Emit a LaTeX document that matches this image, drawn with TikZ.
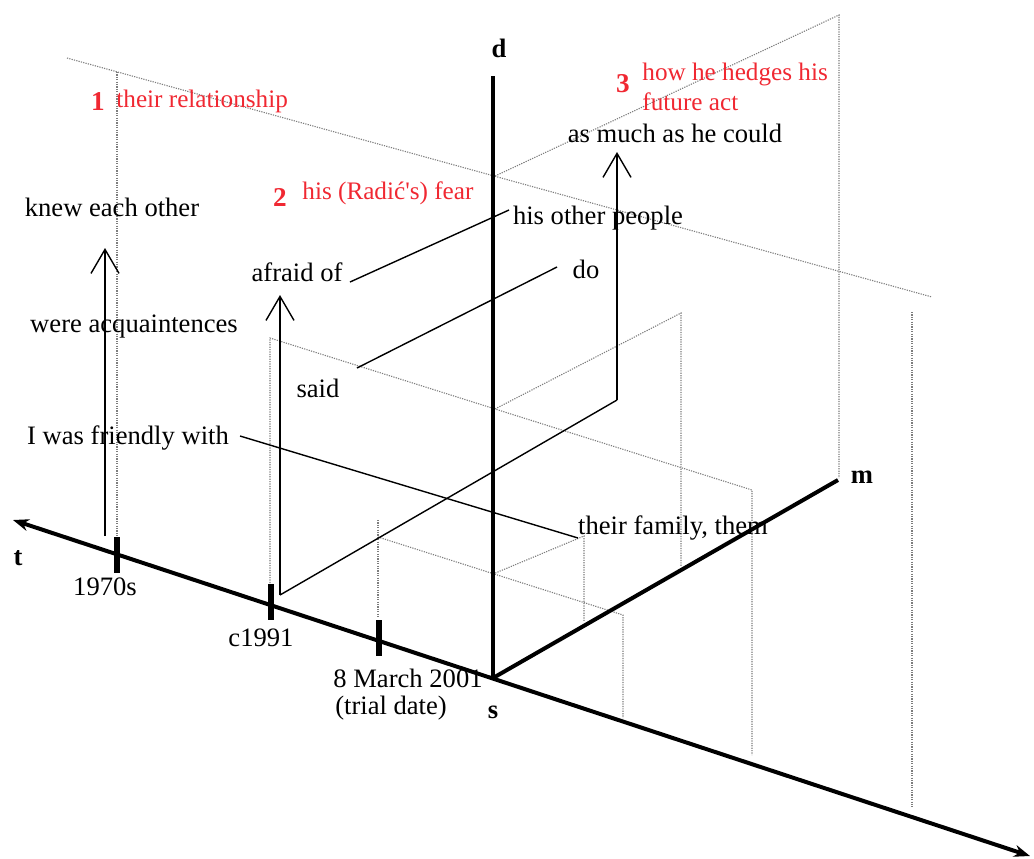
\documentclass[tikz,border=0pt]{standalone}
\usepackage{fontspec}
\setmainfont{Liberation Serif}
\usepackage{tikz}
\usetikzlibrary{arrows.meta}
\definecolor{labelred}{RGB}{240, 40, 50}
\definecolor{planegray}{RGB}{125, 125, 125}

\begin{document}
\begin{tikzpicture}[x=0.5pt, y=-0.5pt,
    txt/.style={font=\fontsize{13.3}{15}\selectfont, inner sep=0pt},
    redtxt/.style={font=\fontsize{12.6}{15}\selectfont, text=labelred, inner sep=0pt},
    num/.style={font=\fontsize{13.6}{15}\selectfont\bfseries, text=labelred, inner sep=0pt},
    axlabel/.style={font=\fontsize{13.3}{15}\selectfont\bfseries, inner sep=0pt},
    axis/.style={line width=2pt},
    tickmark/.style={line width=2.6pt},
    plane/.style={planegray, line width=0.55pt, dash pattern=on 0.6pt off 0.6pt},
    link/.style={line width=0.7pt},
    rise/.style={line width=0.7pt, -{Straight Barb[length=12pt, width=14pt]}}]

    \useasboundingbox (0,0) rectangle (1034,858);

    % axes
    \coordinate (s) at (493,678);
    \coordinate (dtop) at (493,76);
    \coordinate (mend) at (838,480);
    \coordinate (tleft) at (13,520);
    \coordinate (tright) at (1030,856);

    % plane 1: their relationship
    \draw[plane] (67,58) -- (932,297);
    \draw[plane] (493,177) -- (839,15) -- (839,478);
    \draw[plane] (117,72) -- (117,538);
    \draw[plane] (912,312) -- (912,807);

    % plane 2: his fear
    \draw[plane] (270,583) -- (270,338) -- (752,490) -- (752,755);
    \draw[plane] (493,410) -- (681,313) -- (681,566);

    % plane 3: trial date
    \draw[plane] (378,520) -- (378,618);
    \draw[plane] (378,537) -- (623,615) -- (623,718);
    \draw[plane] (493,574) -- (584,536) -- (584,621);

    \draw[axis, {Stealth[length=8pt, width=6pt]}-{Stealth[length=8pt, width=6pt]}] (tleft) -- (tright);
    \draw[axis] (s) -- (dtop);
    \draw[axis] (s) -- (mend);

    % ticks on t
    \foreach \nm/\x/\y in {tk1/117/555, tk2/271/602, tk3/379/638} {
        \coordinate (\nm) at (\x,\y);
        \draw[tickmark] ([yshift=9pt]\nm) -- ([yshift=-9pt]\nm);
    }

    \node[axlabel] (dlab) at (499,48) {d};
    \node[axlabel] (tlab) at (18,558) {t};
    \node[axlabel] (slab) at (493,712) {s};
    \node[axlabel] (mlab) at (862,477) {m};

    \node[txt] (y70) at (105,587) {1970s};
    \node[txt] (y91) at (261,638) {c1991};
    \node[txt] (y01) at (408,678) {8 March 2001};
    \node[txt] (trial) at (391,708) {(trial date)};

    % red headings
    \node[num] (n1) at (98,102) {1};
    \node[redtxt, anchor=west] (rel) at (116,101) {their relationship};
    \node[num] (n2) at (280,197) {2};
    \node[redtxt, anchor=west] (fear) at (302,193) {his (Radić\textquotesingle s) fear};
    \node[num] (n3) at (623,84) {3};
    \node[redtxt, anchor=north west, align=left] (hedge) at (642,63) {how he hedges his\\future act};

    % words
    \node[txt] (knew) at (112,207) {knew each other};
    \node[txt] (acq) at (134,327) {were acquaintences};
    \node[txt] (friendly) at (128,438) {I was friendly with};
    \node[txt] (afraid) at (297,272) {afraid of};
    \node[txt] (said) at (318,388) {said};
    \node[txt] (other) at (598,218) {his other people};
    \node[txt] (do) at (586,269) {do};
    \node[txt] (family) at (673,528) {their family, them};
    \node[txt] (could) at (675,133) {as much as he could};

    % links
    \coordinate (f1) at (240,436);
    \coordinate (f2) at (578,538);
    \coordinate (a1) at (350,282);
    \coordinate (a2) at (509,210);
    \coordinate (s1) at (357,368);
    \coordinate (s2) at (557,267);
    \draw[link] (f1) -- (f2);
    \draw[link] (a1) -- (a2);
    \draw[link] (s1) -- (s2);

    % arrows
    \coordinate (r1) at (105,536);
    \coordinate (r1top) at (105,248);
    \coordinate (r2) at (280,595);
    \coordinate (r2top) at (280,295);
    \coordinate (r3) at (617,400);
    \coordinate (r3top) at (617,152);
    \draw[rise] (r1) -- (r1top);
    \draw[rise] (r2) -- (r2top);
    \draw[link] (r2) -- (r3);
    \draw[rise] (r3) -- (r3top);
\end{tikzpicture}
\end{document}
